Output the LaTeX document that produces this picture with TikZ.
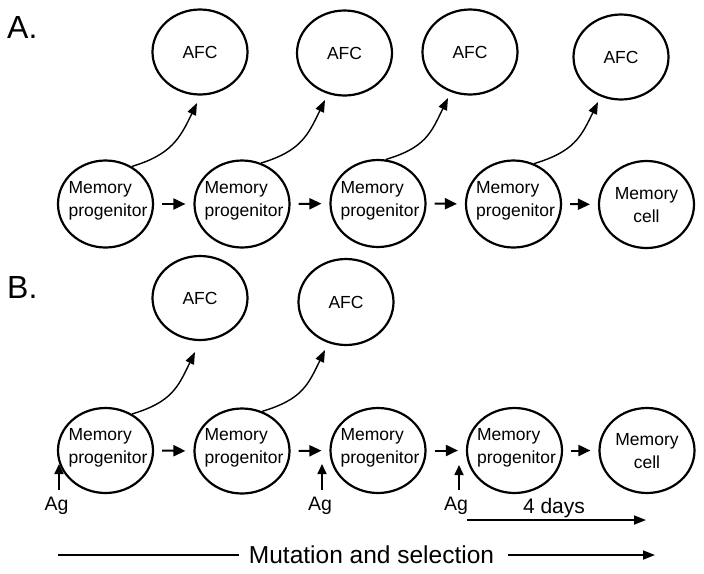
\documentclass[tikz,border=0pt]{standalone}
\usepackage{fontspec}
\setmainfont{Liberation Sans}
\usetikzlibrary{shapes.geometric,arrows.meta,calc}
\begin{document}
\begin{tikzpicture}[x=1pt,y=-1pt,
 cell/.style={ellipse,draw,line width=2.2pt,minimum width=95pt,minimum height=87pt,inner sep=0pt},
 afc/.style={ellipse,draw,line width=2.2pt,minimum width=95pt,minimum height=85pt,inner sep=0pt,font=\fontsize{17.5}{21}\selectfont},
 txt/.style={font=\fontsize{17.5}{23}\selectfont,inner sep=0pt,align=left},
 ctxt/.style={txt,align=center},
 harrow/.style={-{Triangle[length=12pt,width=11pt]},line width=2pt,shorten <=8pt,shorten >=8pt},
 carrow/.style={-{Triangle[length=12pt,width=9pt]},line width=1.4pt},
 varrow/.style={-{Triangle[length=10pt,width=9pt]},line width=1.7pt},
 larrow/.style={-{Triangle[length=12pt,width=9pt]},line width=1.7pt},
 agtxt/.style={font=\fontsize{19.5}{22}\selectfont,inner sep=0pt,anchor=base},
 lbl/.style={font=\fontsize{32}{36}\selectfont,inner sep=0pt,anchor=base west}
]
\useasboundingbox (0,0) rectangle (704,573);
\fill[white] (0,0) rectangle (704,573);

% labels
\node[lbl] (labA) at (7,38) {A.};
\node[lbl] (labB) at (7,298) {B.};

% ---------- Row A ----------
\node[cell] (a1) at (105.5,204) {};
\node[cell] (a2) at (242,204) {};
\node[cell] (a3) at (378,203.5) {};
\node[cell] (a4) at (513.5,204) {};
\node[cell] (a5) at (646.5,204.5) {};
\node[txt] (a1t) at (108,201) {Memory\\progenitor};
\node[txt] (a2t) at (244,201) {Memory\\progenitor};
\node[txt] (a3t) at (380,200.5) {Memory\\progenitor};
\node[txt] (a4t) at (515.5,201) {Memory\\progenitor};
\node[ctxt] (a5t) at (646.5,205) {Memory\\cell};

\node[afc] (fa1) at (200,52) {AFC};
\node[afc] (fa2) at (344.5,53) {AFC};
\node[afc] (fa3) at (470,52) {AFC};
\node[afc] (fa4) at (621,57) {AFC};

\draw[harrow] (a1.east) -- (a2.west);
\draw[harrow] (a2.east) -- (a3.west);
\draw[harrow] (a3.east) -- (a4.west);
\draw[harrow] (a4.east) -- (a5.west);

\coordinate (tA1) at (197,103);
\coordinate (tA2) at (325,100);
\coordinate (tA3) at (448,98);
\coordinate (tA4) at (598,102);
\draw[carrow] (a1.55) .. controls ($(a1.55)+(40,-12)$) and ($(tA1)+(-17,35)$) .. (tA1);
\draw[carrow] (a2.65) .. controls ($(a2.65)+(40,-12)$) and ($(tA2)+(-17,35)$) .. (tA2);
\draw[carrow] (a3.80) .. controls ($(a3.80)+(40,-12)$) and ($(tA3)+(-17,35)$) .. (tA3);
\draw[carrow] (a4.63) .. controls ($(a4.63)+(40,-12)$) and ($(tA4)+(-17,35)$) .. (tA4);

% ---------- Row B ----------
\node[cell,minimum height=85pt] (b1) at (105.5,450.5) {};
\node[cell,minimum height=85pt] (b2) at (242,451) {};
\node[cell,minimum height=85pt] (b3) at (378,450.5) {};
\node[cell,minimum height=85pt] (b4) at (514.5,450.5) {};
\node[cell,minimum height=85pt] (b5) at (647,450.5) {};
\node[txt] (b1t) at (108,448) {Memory\\progenitor};
\node[txt] (b2t) at (244,448) {Memory\\progenitor};
\node[txt] (b3t) at (380,448) {Memory\\progenitor};
\node[txt] (b4t) at (516.5,448) {Memory\\progenitor};
\node[ctxt] (b5t) at (647,451) {Memory\\cell};

\node[afc,minimum height=84pt] (fb1) at (200,298) {AFC};
\node[afc,minimum height=86pt] (fb2) at (346,302) {AFC};

\draw[harrow] (b1.east) -- (b2.west);
\draw[harrow] (b2.east) -- (b3.west);
\draw[harrow] (b3.east) -- (b4.west);
\draw[harrow] (b4.east) -- (b5.west);

\coordinate (tB1) at (195,352);
\coordinate (tB2) at (325,350);
\draw[carrow] (b1.54) .. controls ($(b1.54)+(40,-12)$) and ($(tB1)+(-17,35)$) .. (tB1);
\draw[carrow] (b2.63) .. controls ($(b2.63)+(40,-12)$) and ($(tB2)+(-17,35)$) .. (tB2);

% Ag inputs
\node[agtxt] (ag1) at (56.5,510) {Ag};
\node[agtxt] (ag2) at (320,510) {Ag};
\node[agtxt] (ag3) at (456,510) {Ag};
\coordinate (g1) at (59,464);
\coordinate (g2) at (322,464);
\coordinate (g3) at (459,465);
\draw[varrow] (g1 |- 0,490) -- (g1);
\draw[varrow] (g2 |- 0,490) -- (g2);
\draw[varrow] (g3 |- 0,490) -- (g3);

% 4 days
\node[font=\fontsize{21}{24}\selectfont,inner sep=0pt,anchor=base] (days) at (554,513) {4 days};
\coordinate (d0) at (467,520);
\coordinate (d1) at (646,520);
\draw[larrow] (d0) -- (d1);

% Mutation and selection
\node[font=\fontsize{24.5}{28}\selectfont,inner sep=0pt,anchor=base] (mut) at (371.5,563) {Mutation and selection};
\coordinate (m0) at (58,555);
\coordinate (m1) at (655,555);
\draw[line width=1.7pt] (m0) -- ($(mut.west |- m0)+(-10,0)$);
\draw[larrow] ($(mut.east |- m1)+(14,0)$) -- (m1);
\end{tikzpicture}
\end{document}
